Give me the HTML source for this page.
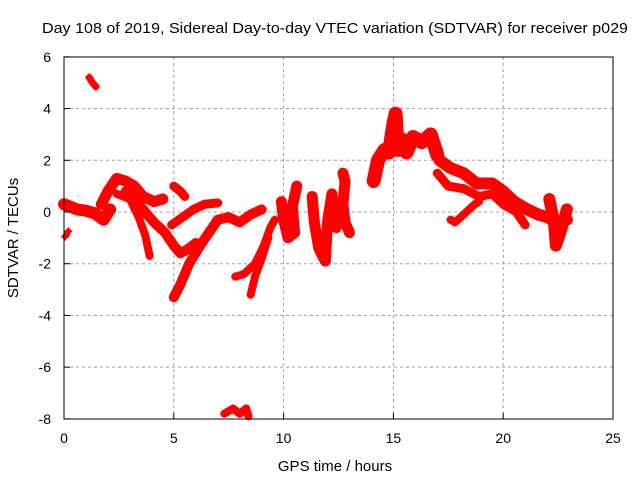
<!DOCTYPE html>
<html><head><meta charset="utf-8"><style>
html,body{margin:0;padding:0;background:#fff}
svg{display:block;font-family:"Liberation Sans",sans-serif}
</style></head><body>
<svg id="chart" width="640" height="480">
<text x="335" y="33" font-size="15" text-anchor="middle" textLength="586" lengthAdjust="spacingAndGlyphs">Day 108 of 2019, Sidereal Day-to-day VTEC variation (SDTVAR) for receiver p029</text>
<text x="335" y="471" font-size="15" text-anchor="middle">GPS time / hours</text>
<text x="18" y="238" font-size="15" text-anchor="middle" transform="rotate(-90 18 238)">SDTVAR / TECUs</text>
<g id="grid"></g>
<g id="marks"></g>
<rect x="64" y="57" width="549" height="362" fill="none" stroke="#000" stroke-width="1"/>
<g id="axes"></g>
</svg>
<script>
const xTicks=[0,5,10,15,20,25];
const yTicks=[-8,-6,-4,-2,0,2,4,6];
const trackA=[[0,0.3],[0.3,0.2],[0.6,0.1],[1.0,0.05],[1.4,-0.05],[1.8,-0.3],[2.1,0.1]];
const trackB=[[1.15,5.2],[1.3,5.0],[1.45,4.85]];
const trackC=[[0.05,-0.95],[0.2,-0.75]];
const trackD=[[1.7,0.3],[2.0,0.8],[2.4,1.3],[2.8,1.2],[3.2,1.0],[3.6,0.6],[4.1,0.4],[4.5,0.5]];
const trackE=[[2.4,0.7],[3.0,0.5],[3.4,-0.2],[3.7,-0.9],[3.9,-1.7]];
const trackF=[[2.8,0.8],[3.5,0.2],[4.1,-0.4],[4.6,-0.8],[5.0,-1.3],[5.3,-1.6],[5.7,-1.4],[6.0,-1.2]];
const trackG=[[5.0,1.0],[5.3,0.8],[5.5,0.6]];
const trackH=[[4.9,-0.5],[5.4,-0.2],[5.9,0.1],[6.4,0.3],[7.0,0.35]];
const trackI=[[5.0,-3.3],[5.3,-2.8],[5.7,-2.0],[6.2,-1.3],[6.6,-0.8],[7.0,-0.3],[7.5,-0.2],[8.0,-0.4],[8.5,-0.1],[9.0,0.1]];
const trackJ=[[7.8,-2.5],[8.2,-2.4],[8.7,-2.0],[9.1,-1.3],[9.4,-0.6],[9.6,-0.3]];
const trackK=[[8.5,-3.2],[8.7,-2.5],[9.0,-1.8],[9.3,-1.0]];
const trackL=[[7.3,-7.8],[7.7,-7.6],[8.0,-7.8],[8.3,-7.6],[8.4,-7.9]];
const trackM=[[9.9,0.4],[10.0,-0.3],[10.2,-1.0],[10.5,-0.8],[10.4,0.2],[10.6,1.0]];
const trackN=[[11.3,0.6],[11.4,-0.4],[11.6,-1.4],[11.9,-1.9],[12.0,-0.4],[12.2,0.7],[12.4,-0.6]];
const trackO=[[12.7,1.5],[12.8,1.2],[12.7,0.3],[12.8,-0.4],[13.0,-0.8]];
const trackP=[[14.1,1.2],[14.3,2.0],[14.6,2.4],[14.8,2.3],[15.0,3.4],[15.1,3.8],[15.2,2.4],[15.4,2.8],[15.6,2.3],[15.9,2.9],[16.3,2.7],[16.7,3.0],[17.0,2.2]];
const trackQ=[[17.1,2.0],[17.6,1.7],[18.2,1.5],[18.8,1.1],[19.5,1.1],[20.0,0.8],[20.5,0.4],[21.1,0.1],[21.6,-0.1],[22.0,-0.2],[22.5,-0.4],[22.9,-0.3]];
const trackR=[[17.0,1.5],[17.5,1.0],[18.2,0.9],[18.9,0.6],[19.5,0.7],[20.0,0.3],[20.6,0.0],[21.0,-0.5]];
const trackS=[[17.6,-0.3],[17.8,-0.4],[18.2,-0.1],[18.7,0.3],[18.9,0.4]];
const trackT=[[22.1,0.5],[22.3,-0.3],[22.4,-1.3],[22.6,-0.8],[22.8,-0.2],[22.9,0.1]];
const tracks=[trackA,trackB,trackC,trackD,trackE,trackF,trackG,trackH,trackI,trackJ,trackK,trackL,trackM,trackN,trackO,trackP,trackQ,trackR,trackS,trackT];
const widths=[12,7,6,11,8,10,9,9,10,8,8,8,11,11,11,14,12,9,8,12];

const X=t=>64+t*(549/25);
const Y=v=>212-v*(362/14);
const ns="http://www.w3.org/2000/svg";
const grid=document.getElementById('grid'),axes=document.getElementById('axes'),marks=document.getElementById('marks');
function mk(tag,attrs,parent){const e=document.createElementNS(ns,tag);for(const k in attrs)e.setAttribute(k,attrs[k]);parent.appendChild(e);return e;}
xTicks.forEach(t=>{
  const x=X(t);
  if(t>0&&t<25){const g=mk('line',{x1:x,x2:x,y1:57,y2:419,stroke:'#a0a0a0','stroke-dasharray':'3,3'},grid);
  
  }
  const tk=mk('line',{x1:x,x2:x,y1:419,y2:413,stroke:'#000'},axes);
  
  
  const l=mk('text',{x:x,y:443,'font-size':14,'text-anchor':'middle'},axes);l.textContent=t;
  
  
});
yTicks.forEach(v=>{
  const y=Y(v);
  if(v>-8&&v<6){const g=mk('line',{x1:64,x2:613,y1:y,y2:y,stroke:'#a0a0a0','stroke-dasharray':'3,3'},grid);
  
  }
  const tk=mk('line',{x1:64,x2:70,y1:y,y2:y,stroke:'#000'},axes);
  
  
  const l=mk('text',{x:51,y:y+5,'font-size':14,'text-anchor':'end'},axes);l.textContent=v;
  
  
});
tracks.forEach((tr,i)=>{
  const p=mk('polyline',{points:tr.map(d=>X(d[0])+','+Y(d[1])).join(' '),fill:'none',stroke:'#ff0000','stroke-width':widths[i],'stroke-linejoin':'round','stroke-linecap':'round'},marks);
  
  
  tr.forEach(d=>{
    const x=X(d[0]),y=Y(d[1]);
    const m=mk('path',{d:`M${x-4},${y}H${x+4}M${x},${y-4}V${y+4}`,stroke:'#ff0000','stroke-width':1.5},marks);
    
    
  });
});
</script>
</body></html>
